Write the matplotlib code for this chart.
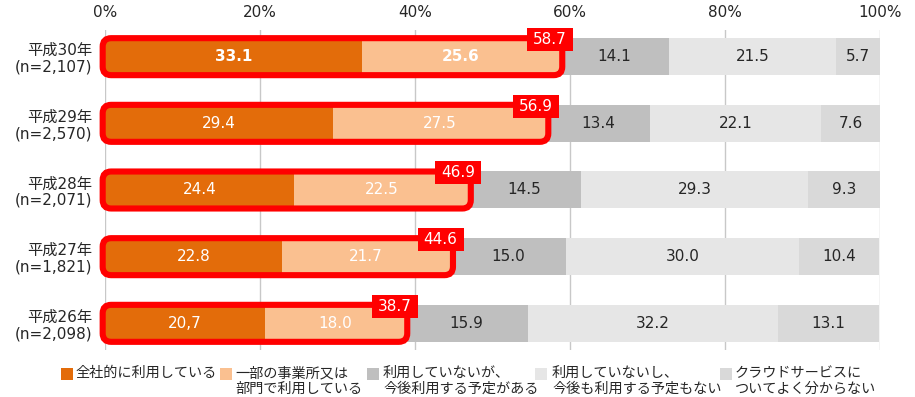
import matplotlib
matplotlib.use("Agg")
import matplotlib.pyplot as plt
from matplotlib.patches import FancyBboxPatch, Rectangle
import numpy as np

plt.rcParams['font.family'] = ['DejaVu Sans', 'Noto Sans CJK JP']

years = ["平成30年\n(n=2,107)", "平成29年\n(n=2,570)", "平成28年\n(n=2,071)",
         "平成27年\n(n=1,821)", "平成26年\n(n=2,098)"]
s1 = [33.1, 29.4, 24.4, 22.8, 20.7]
s1_labels = ["33.1", "29.4", "24.4", "22.8", "20,7"]
s2 = [25.6, 27.5, 22.5, 21.7, 18.0]
s3 = [14.1, 13.4, 14.5, 15.0, 15.9]
s4 = [21.5, 22.1, 29.3, 30.0, 32.2]
s5 = [5.7, 7.6, 9.3, 10.4, 13.1]
totals = [58.7, 56.9, 46.9, 44.6, 38.7]
xticks = [0, 20, 40, 60, 80, 100]
xtick_labels = ["0%", "20%", "40%", "60%", "80%", "100%"]
legend_labels = [["全社的に利用している"],
                 ["一部の事業所又は", "部門で利用している"],
                 ["利用していないが、", "今後利用する予定がある"],
                 ["利用していないし、", "今後も利用する予定もない"],
                 ["クラウドサービスに", "ついてよく分からない"]]
colors = ["#E36C0A", "#FAC090", "#BFBFBF", "#E6E6E6", "#D9D9D9"]

W, H = 915, 397
fig = plt.figure(figsize=(W / 100, H / 100), dpi=100)
ax_l, ax_r, ax_t, ax_b = 105, 880, 30, 350
ax = fig.add_axes([ax_l / W, 1 - ax_b / H, (ax_r - ax_l) / W, (ax_b - ax_t) / H])

ypos = np.arange(len(years))
bh = 0.555
series = [s1, s2, s3, s4, s5]
left = np.zeros(len(years))
txtcol = "#262626"
fs = 11
for k, (vals, c) in enumerate(zip(series, colors)):
    vals = np.array(vals)
    ax.barh(ypos, vals, left=left, height=bh, color=c, zorder=2, linewidth=0)
    for i, v in enumerate(vals):
        if k == 0:
            lab = s1_labels[i]
        else:
            lab = f"{v:.1f}"
        col = "white" if k < 2 else txtcol
        fw = "bold" if (i == 0 and k < 2) else "normal"
        ax.text(left[i] + v / 2, ypos[i], lab, ha="center", va="center",
                color=col, fontsize=fs, fontweight=fw, zorder=4)
    left = left + vals

ax.set_xlim(0, 100)
ax.set_ylim(len(years) - 0.6, -0.4)

px_per_x = (ax_r - ax_l) / 100.0
px_per_y = (ax_b - ax_t) / (len(years) - 0.6 + 0.4)
asp = px_per_x / px_per_y

for i, t in enumerate(totals):
    x0, x1 = -0.3, t + 0.3
    y0 = ypos[i] - bh / 2
    p = FancyBboxPatch((x0, y0), x1 - x0, bh,
                       boxstyle="round,pad=0,rounding_size=1.1",
                       mutation_aspect=asp, fill=False, ec="#FF0000",
                       lw=4.4, zorder=3, transform=ax.transData, clip_on=False)
    ax.add_patch(p)
    bw = 46 / px_per_x
    bhh = 23 / px_per_y
    cx = t - 1.3
    cy = ypos[i] - bh / 2 + 1.5 / px_per_y
    ax.add_patch(Rectangle((cx - bw / 2, cy - bhh / 2), bw, bhh, fc="#FF0000",
                           ec="none", zorder=5, clip_on=False))
    ax.text(cx, cy, f"{t:.1f}", ha="center", va="center", color="white",
            fontsize=fs, zorder=6)

ax.set_xticks(xticks)
ax.set_xticklabels(xtick_labels, fontsize=fs, color=txtcol)
ax.xaxis.tick_top()
ax.tick_params(axis="x", length=0, pad=7)
ax.set_yticks(ypos)
ax.set_yticklabels(years, fontsize=fs, color=txtcol, linespacing=1.1)
ax.tick_params(axis="y", length=0, pad=9)
for s in ax.spines.values():
    s.set_visible(False)
ax.grid(axis="x", color="#C8C8C8", lw=1, zorder=0)
ax.set_axisbelow(True)

# legend
sq_x = [61, 220, 367, 535, 720]
tx_x = [76, 235, 383, 552, 735]
for k in range(5):
    fig.patches.append(Rectangle((sq_x[k] / W, 1 - 380 / H), 12 / W, 12 / H,
                                 fc=colors[k], ec="none",
                                 transform=fig.transFigure))
    for j, line in enumerate(legend_labels[k]):
        fig.text(tx_x[k] / W, 1 - (373 + 15.5 * j) / H, line, ha="left",
                 va="center", fontsize=10.2, color=txtcol)

fig.savefig("out.png", dpi=100)
